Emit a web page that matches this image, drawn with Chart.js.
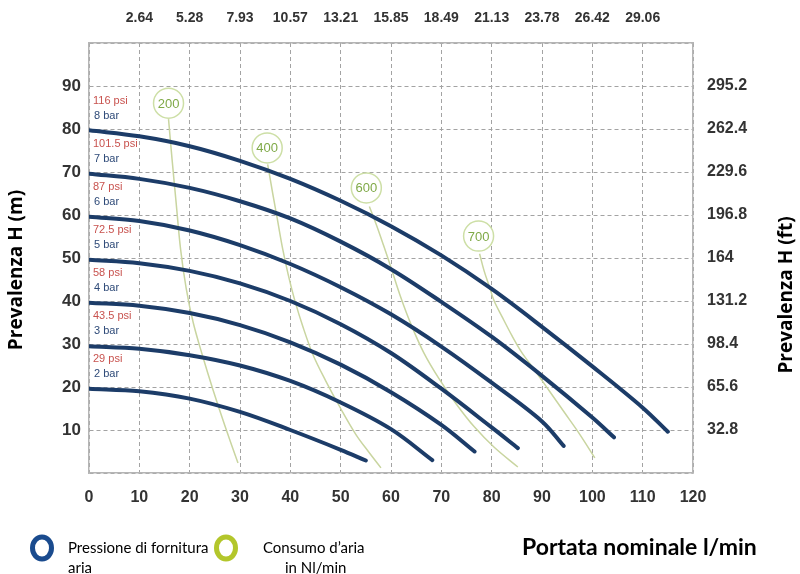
<!DOCTYPE html>
<html>
<head>
<meta charset="utf-8">
<script src="https://cdn.jsdelivr.net/npm/chart.js@4.4.0/dist/chart.umd.min.js"></script>
<style>
  html, body { margin: 0; padding: 0; background: #fff; }
  #wrap { width: 800px; height: 574px; position: relative; }
</style>
</head>
<body>
<div id="wrap"><canvas id="myChart"></canvas></div>
<script>
// Curve di prestazione: portata (l/min) -> prevalenza (m)
const q2 = [0, 10, 20, 30, 40, 50, 55];
const h2 = [19.6, 19.0, 17.3, 14.2, 10.0, 5.4, 2.9];
const q3 = [0, 10, 20, 30, 40, 50, 60, 68.2];
const h3 = [29.5, 28.9, 27.4, 25.0, 21.4, 16.4, 10.2, 3.0];
const q4 = [0, 10, 20, 30, 40, 50, 60, 70, 76.6];
const h4 = [39.6, 38.9, 37.2, 34.4, 30.4, 25.2, 18.8, 11.2, 5.0];
const q5 = [0, 10, 20, 30, 40, 50, 60, 70, 80, 85.2];
const h5 = [49.6, 48.8, 47.0, 44.1, 40.0, 34.6, 27.9, 19.6, 10.6, 5.8];
const q6 = [0, 10, 20, 30, 40, 50, 60, 70, 80, 90, 94.3];
const h6 = [59.6, 58.6, 56.4, 53.0, 48.6, 43.2, 36.9, 29.4, 21.0, 12.0, 6.3];
const q7 = [0, 10, 20, 30, 40, 50, 60, 70, 80, 90, 100, 104.3];
const h7 = [69.6, 68.4, 66.3, 63.2, 59.2, 53.8, 47.4, 39.8, 31.7, 22.6, 12.9, 8.3];
const q8 = [0, 10, 20, 30, 40, 50, 60, 70, 80, 90, 100, 110, 115];
const h8 = [79.7, 78.3, 76.0, 72.6, 68.4, 63.3, 57.4, 50.6, 42.8, 34.0, 24.8, 15.2, 9.6];

const barLabels = ['2 bar', '3 bar', '4 bar', '5 bar', '6 bar', '7 bar', '8 bar'];
const psiLabels = ['29 psi', '43.5 psi', '58 psi', '72.5 psi', '87 psi', '101.5 psi', '116 psi'];
const barLevels = [20, 30, 40, 50, 60, 70, 80];

// Consumo d'aria (Nl/min)
const airLabels = ['200', '400', '600', '700'];
const airBubbleQ = [15.8, 35.4, 55.1, 77.4];
const airBubbleH = [86, 75.6, 66.3, 55.1];
const a200q = [15.8, 16.5, 17.3, 18.2, 19.3, 20.7, 22.5, 24.6, 27, 29.6];
const a200h = [82.3, 73, 63, 52, 43, 35, 27.5, 19.5, 11, 2.3];
const a400q = [35.5, 36.5, 37.5, 38.5, 39.6, 40.8, 42.5, 44.5, 47, 50, 53, 55.5, 58];
const a400h = [71.8, 65, 58.5, 52, 46, 40.5, 34, 27.5, 21.5, 15, 9, 5, 1.2];
const a600q = [55.7, 57, 58.5, 60, 61.9, 64, 66.5, 69.5, 73, 76.5, 80.5, 85.2];
const a600h = [62, 58, 53, 47.8, 41, 34.5, 28, 22, 16, 10.8, 6, 1.4];
const a700q = [77.6, 78.5, 79.5, 80.5, 82, 84, 86, 88.5, 91.5, 94.5, 97.5, 100.5];
const a700h = [51, 47, 43.5, 40, 36.5, 32, 28, 24, 19, 14, 9, 3.5];

// etichette assi secondari
const galLabels = ['2.64', '5.28', '7.93', '10.57', '13.21', '15.85', '18.49', '21.13', '23.78', '26.42', '29.06'];
const ftLabels = ['32.8', '65.6', '98.4', '131.2', '164', '196.8', '229.6', '262.4', '295.2'];

function pts(xs, ys) {
  return xs.map(function (x, i) { return { x: x, y: ys[i] }; });
}

const blue = '#1c3c68';
const pale = '#c9d5a0';

var curves = [[q8, h8], [q7, h7], [q6, h6], [q5, h5], [q4, h4], [q3, h3], [q2, h2]];
var airs = [[a200q, a200h], [a400q, a400h], [a600q, a600h], [a700q, a700h]];

var datasets = [];
curves.forEach(function (c) {
  datasets.push({
    data: pts(c[0], c[1]),
    borderColor: blue,
    borderWidth: 4,
    borderCapStyle: 'round',
    pointRadius: 0,
    tension: 0.35,
    fill: false
  });
});
datasets.push({
  data: pts(airBubbleQ, airBubbleH),
  showLine: false,
  pointRadius: 15,
  pointBackgroundColor: '#ffffff',
  pointBorderColor: '#cddfa6',
  pointBorderWidth: 1.5
});
airs.forEach(function (a) {
  datasets.push({
    data: pts(a[0], a[1]),
    borderColor: pale,
    borderWidth: 1.5,
    pointRadius: 0,
    tension: 0.35,
    fill: false
  });
});

function tf(size) {
  return { family: '"Liberation Sans", Arial, sans-serif', size: size, weight: 'bold' };
}

var textPlugin = {
  id: 'texts',
  afterDatasetsDraw: function (chart) {
    var ctx = chart.ctx, x = chart.scales.x, y = chart.scales.y;
    ctx.save();
    ctx.font = '13px "Liberation Sans", Arial, sans-serif';
    ctx.fillStyle = '#7fa947';
    ctx.textAlign = 'center';
    ctx.textBaseline = 'middle';
    airLabels.forEach(function (t, i) {
      ctx.fillText(t, x.getPixelForValue(airBubbleQ[i]), y.getPixelForValue(airBubbleH[i]) + 1);
    });
    ctx.textAlign = 'left';
    ctx.font = '11px "Liberation Sans", Arial, sans-serif';
    barLevels.forEach(function (lv, i) {
      var py = y.getPixelForValue(lv);
      ctx.fillStyle = '#c8524e';
      ctx.fillText(psiLabels[i], chart.chartArea.left + 4, py - 28);
      ctx.fillStyle = '#2e4a78';
      ctx.fillText(barLabels[i], chart.chartArea.left + 5, py - 13);
    });
    ctx.restore();
  },
  afterDraw: function (chart) {
    var ctx = chart.ctx;
    ctx.save();
    ctx.fillStyle = '#000';
    ctx.textAlign = 'center';
    ctx.textBaseline = 'middle';
    ctx.font = 'bold 19px "Open Sans", Lato, sans-serif';
    ctx.save();
    ctx.translate(17, 270);
    ctx.rotate(-Math.PI / 2);
    ctx.fillText('Prevalenza H (m)', 0, 0);
    ctx.restore();
    ctx.save();
    ctx.translate(787, 295);
    ctx.rotate(-Math.PI / 2);
    ctx.fillText('Prevalenza H (ft)', 0, 0);
    ctx.restore();

    ctx.textAlign = 'left';
    ctx.font = 'bold 23px Lato, "Open Sans", sans-serif';
    ctx.fillText('Portata nominale l/min', 522, 548);

    // legenda
    ctx.lineWidth = 5;
    ctx.strokeStyle = '#1a4b8e';
    ctx.beginPath(); ctx.ellipse(42, 548, 9.5, 11, 0, 0, Math.PI * 2); ctx.stroke();
    ctx.strokeStyle = '#b3c62b';
    ctx.beginPath(); ctx.ellipse(226, 548, 9.5, 11, 0, 0, Math.PI * 2); ctx.stroke();
    ctx.font = '15px Lato, "Open Sans", sans-serif';
    ctx.fillText('Pressione di fornitura', 68, 548);
    ctx.fillText('aria', 68, 568);
    ctx.fillText('Consumo d\u2019aria', 263, 548);
    ctx.fillText('in Nl/min', 285, 568);
    ctx.restore();
  }
};

var ctx = document.getElementById('myChart').getContext('2d');
var chart = new Chart(ctx, {
  type: 'line',
  data: { datasets: datasets },
  plugins: [textPlugin],
  options: {
    responsive: true,
    maintainAspectRatio: false,
    animation: false,
    layout: { padding: 0 },
    plugins: { legend: { display: false }, tooltip: { enabled: false } },
    scales: {
      x: {
        type: 'linear', position: 'bottom', min: 0, max: 120,
        afterFit: function (s) { s.height = 101; },
        ticks: { stepSize: 10, padding: 15, color: '#333', font: tf(16), maxRotation: 0, autoSkip: false },
        grid: { color: '#a3a3a3', lineWidth: 1, drawTicks: false },
        border: { display: true, color: '#b5b5b5', width: 1.5, dash: [4, 3] }
      },
      x2: {
        type: 'linear', position: 'top', min: 0, max: 120,
        afterFit: function (s) { s.height = 43; },
        ticks: {
          stepSize: 10, padding: 16, color: '#333', font: tf(14), maxRotation: 0, autoSkip: false,
          callback: function (v) { var t = galLabels[v / 10 - 1]; return t === undefined ? '' : t; }
        },
        grid: { display: false, drawTicks: false },
        border: { display: true, color: '#b5b5b5', width: 1.5 }
      },
      y: {
        type: 'linear', position: 'left', min: 0, max: 100,
        afterFit: function (s) { s.width = 89; },
        ticks: {
          stepSize: 10, padding: 8, color: '#333', font: tf(17),
          callback: function (v) { return (v === 0 || v === 100) ? '' : v; }
        },
        grid: { color: '#a3a3a3', lineWidth: 1, drawTicks: false },
        border: { display: true, color: '#b5b5b5', width: 1.5, dash: [4, 3] }
      },
      y2: {
        type: 'linear', position: 'right', min: 0, max: 100,
        afterFit: function (s) { s.width = 107; },
        ticks: {
          stepSize: 10, padding: 14, color: '#333', font: tf(16),
          callback: function (v) { var t = ftLabels[v / 10 - 1]; return t === undefined ? '' : t; }
        },
        grid: { display: false, drawTicks: false },
        border: { display: true, color: '#b5b5b5', width: 1.5 }
      }
    }
  }
});
</script>
</body>
</html>
